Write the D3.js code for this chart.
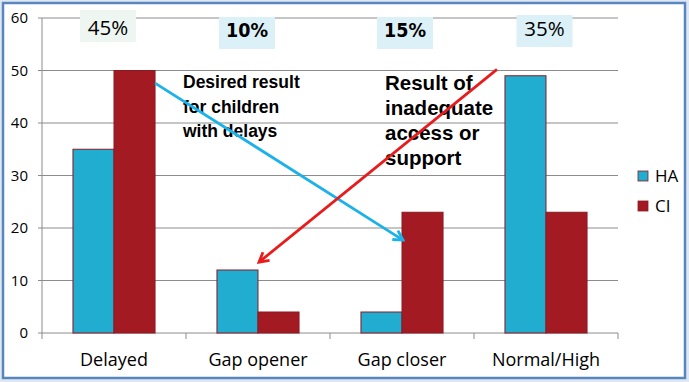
<!DOCTYPE html>
<html><head><meta charset="utf-8">
<script src="https://cdn.jsdelivr.net/npm/d3@7"></script>
<style>html,body{margin:0;padding:0;background:#fff}svg{display:block}</style>
</head><body>
<svg id="c" width="689" height="382"></svg>
<script>
const categories = ["Delayed", "Gap opener", "Gap closer", "Normal/High"];
const seriesNames = ["HA", "CI"];
const haValues = [35, 12, 4, 49];
const ciValues = [50, 4, 23, 23];
const pctLabels = ["45%", "10%", "15%", "35%"];
const yTicks = [0, 10, 20, 30, 40, 50, 60];
const colors = {HA: "#21ADD0", CI: "#A31A22"};

const svg = d3.select("#c");
svg.append("rect").attr("x",0).attr("y",0).attr("width",689).attr("height",382).attr("fill","#dfe8f2");
svg.append("rect").attr("x",3).attr("y",3).attr("width",682).attr("height",375).attr("fill","#fff")
  .attr("stroke","#5a86bf").attr("stroke-width",2.5);

const x0 = d3.scaleBand().domain(categories).range([42, 618]).paddingInner(0.43).paddingOuter(0.215);
const x1 = d3.scaleBand().domain(seriesNames).range([0, x0.bandwidth()]);
const y = d3.scaleLinear().domain([0, 60]).range([333, 18]);
const xTickEdge = d3.scaleLinear().domain([0, 4]).range([42, 618]);

svg.append("g").selectAll("line").data(yTicks).join("line")
  .attr("x1", 38).attr("x2", 618).attr("y1", d=>y(d)).attr("y2", d=>y(d))
  .attr("stroke", "#8c8c8c").attr("stroke-width", 1);
svg.append("line").attr("x1",42).attr("x2",42).attr("y1",y(60)).attr("y2",y(0)).attr("stroke","#8c8c8c");
svg.append("g").selectAll("line").data(d3.range(5)).join("line")
  .attr("x1", d=>xTickEdge(d)).attr("x2", d=>xTickEdge(d)).attr("y1", y(0)).attr("y2", y(0)+6)
  .attr("stroke","#8c8c8c");
svg.append("g").selectAll("text").data(yTicks).join("text")
  .attr("x", 28).attr("y", d=>y(d)+5).attr("text-anchor","end")
  .attr("font-family","'Open Sans', 'Liberation Sans', sans-serif").attr("font-size",15).attr("fill","#000")
  .text(d=>d);
svg.append("g").selectAll("text").data(categories).join("text")
  .attr("x", d=>x0(d)+x0.bandwidth()/2).attr("y", 366).attr("text-anchor","middle")
  .attr("font-family","'Open Sans', 'Liberation Sans', sans-serif").attr("font-size",18).attr("fill","#000")
  .text(d=>d);

const rows = categories.map((c,i)=>({cat:c, vals:[{s:"HA",v:haValues[i]},{s:"CI",v:ciValues[i]}]}));
const g = svg.append("g").selectAll("g").data(rows).join("g").attr("transform", d=>`translate(${x0(d.cat)},0)`);
g.selectAll("rect").data(d=>d.vals).join("rect")
  .attr("x", d=>x1(d.s)).attr("width", x1.bandwidth())
  .attr("y", d=>y(d.v)).attr("height", d=>y(0)-y(d.v))
  .attr("fill", d=>colors[d.s]).attr("stroke","#8a1a22").attr("stroke-width",1);

// percent boxes
const pctBg = ["#edf6f1", "#dcf0f7", "#dcf0f7", "#dcf0f7"];
const pctY = [10, 17, 17, 15];
const pctBase = [35, 37, 37, 36];
const pctDx = [-6, -11, 3, -1.5];
const pctFont = ["'Open Sans', sans-serif", "'DejaVu Sans Condensed', 'DejaVu Sans', sans-serif", "'DejaVu Sans Condensed', 'DejaVu Sans', sans-serif", "'Open Sans', sans-serif"];
const pctWeight = ["normal","bold","bold","normal"];
const pg = svg.append("g").selectAll("g").data(pctLabels).join("g")
  .attr("transform",(d,i)=>`translate(${x0(categories[i])+x0.bandwidth()/2+pctDx[i]},0)`);
pg.append("rect").attr("x",-28).attr("y",(d,i)=>pctY[i]).attr("width",56).attr("height",32).attr("fill",(d,i)=>pctBg[i]);
pg.append("text").attr("x",0).attr("y",(d,i)=>pctBase[i])
  .attr("text-anchor","middle").attr("font-family",(d,i)=>pctFont[i]).attr("font-weight",(d,i)=>pctWeight[i])
  .attr("font-stretch",(d,i)=>pctWeight[i]==="bold"?"condensed":"normal")
  .attr("font-size",(d,i)=>pctWeight[i]==="bold"?19.5:20.5).attr("fill","#000").text(d=>d);

const ann1 = ["Desired result", "for children", "with delays"];
const ann2 = ["Result of", "inadequate", "access or", "support"];
svg.append("g").selectAll("text").data(ann1).join("text")
  .attr("x",183).attr("y",(d,i)=>88+i*24.5)
  .attr("font-family","'Liberation Sans', Arial, sans-serif").attr("font-weight","bold").attr("font-size",17.5)
  .attr("fill","#000").text(d=>d);
svg.append("g").selectAll("text").data(ann2).join("text")
  .attr("x",385).attr("y",(d,i)=>90+i*25)
  .attr("font-family","'Liberation Sans', Arial, sans-serif").attr("font-weight","bold").attr("font-size",20.5)
  .attr("fill","#000").text(d=>d);

const defs = svg.append("defs");
function marker(id, col){
  defs.append("marker").attr("id",id).attr("viewBox","0 0 12 12").attr("refX",10).attr("refY",6)
    .attr("markerWidth",5).attr("markerHeight",5).attr("orient","auto").attr("markerUnits","strokeWidth")
    .append("path").attr("d","M2,1.5 L10,6 L2,10.5").attr("fill","none").attr("stroke",col)
    .attr("stroke-width",2.4).attr("stroke-linejoin","miter");
}
marker("mb","#1cb2e8"); marker("mr","#e81c1c");
svg.append("line")
  .attr("x1", x0("Delayed")+x1("CI")+x1.bandwidth()).attr("y1", y(47.6))
  .attr("x2", x0("Gap closer")+x1("CI")+1).attr("y2", y(17.7))
  .attr("stroke","#1cb2e8").attr("stroke-width",2.8).attr("marker-end","url(#mb)");
svg.append("line")
  .attr("x1", 497).attr("y1", y(50.2))
  .attr("x2", x0("Gap opener")+x1("HA")+x1.bandwidth()+1).attr("y2", y(13.5))
  .attr("stroke","#e81c1c").attr("stroke-width",2.8).attr("marker-end","url(#mr)");

const lg = svg.append("g").selectAll("g").data(seriesNames).join("g")
  .attr("transform",(d,i)=>`translate(638,${171+i*30})`);
lg.append("rect").attr("width",10).attr("height",10).attr("fill",d=>colors[d]).attr("stroke","#8a1a22").attr("stroke-width",0.8);
lg.append("text").attr("x",17).attr("y",10.5).attr("font-family","'Open Sans', 'Liberation Sans', sans-serif")
  .attr("font-size",17).attr("fill","#000").text(d=>d);
</script>
</body></html>
